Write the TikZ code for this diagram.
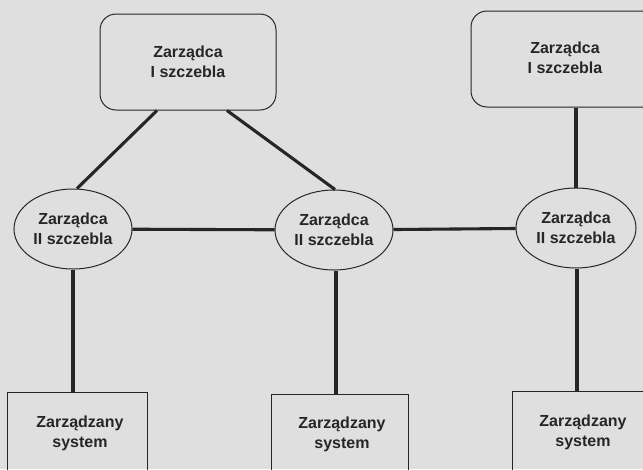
\documentclass[tikz,border=0pt]{standalone}
\usepackage{fontspec}
\setmainfont{Liberation Sans}
\usetikzlibrary{shapes.geometric}
\definecolor{bgcol}{HTML}{DFDFDF}
\definecolor{ink}{HTML}{262626}
\tikzset{
  lbl/.style={font=\fontsize{16}{20}\selectfont\bfseries, text=ink, align=center, inner sep=0pt},
  topbox/.style={draw=ink, line width=1pt, rounded corners=16pt, minimum width=176pt, minimum height=96pt, inner sep=0pt},
  ell/.style={draw=ink, line width=1pt, ellipse, minimum width=118pt, minimum height=80pt, inner sep=0pt},
  sysbox/.style={draw=ink, line width=0.8pt, minimum width=138pt, minimum height=120pt, inner sep=0pt},
  conn/.style={draw=ink, line width=3.1pt}
}
\begin{document}
\begin{tikzpicture}[x=1pt, y=-1pt]
\fill[bgcol] (0,0) rectangle (643,469);
\useasboundingbox (0,0) rectangle (643,469);
\clip (0,0) rectangle (643,469);

% top-level managers
\node[topbox] (tl) at (188,62) {};
\node[lbl] (tlt) at (tl.center) {Zarządca\\I szczebla};
\node[topbox, minimum width=190pt] (tr) at (566,59) {};
\node[lbl] (trt) at (565,58) {Zarządca\\I szczebla};

% second-level managers
\node[ell] (le) at (73,229) {};
\node[lbl] (let) at (le.center) {Zarządca\\II szczebla};
\node[ell] (me) at (334,230) {};
\node[lbl] (met) at (me.center) {Zarządca\\II szczebla};
\node[ell, minimum width=120pt] (re) at (576,228) {};
\node[lbl] (ret) at (re.center) {Zarządca\\II szczebla};

% managed systems
\node[sysbox, minimum width=140pt] (lb) at (77,452) {};
\node[lbl] (lbt) at (80,433) {Zarządzany\\system};
\node[sysbox, minimum width=137pt] (mb) at (339.5,454) {};
\node[lbl] (mbt) at (342,434) {Zarządzany\\system};
\node[sysbox, minimum width=142pt] (rb) at (583,451) {};
\node[lbl] (rbt) at (583,432) {Zarządzany\\system};

% connectors
\draw[conn] ([xshift=-31pt]tl.south) -- ([xshift=4pt]le.north);
\draw[conn] ([xshift=39pt]tl.south) -- ([xshift=1pt]me.north);
\draw[conn] (re.north) -- (re.north |- tr.south);
\draw[conn] (le) -- (me);
\draw[conn] (me) -- (re);
\draw[conn] (le.south) -- (le.south |- lb.north);
\draw[conn] ([xshift=2pt]me.south) -- ([xshift=2pt]me.south |- mb.north);
\draw[conn] ([xshift=1pt]re.south) -- ([xshift=1pt]re.south |- rb.north);
\end{tikzpicture}
\end{document}
